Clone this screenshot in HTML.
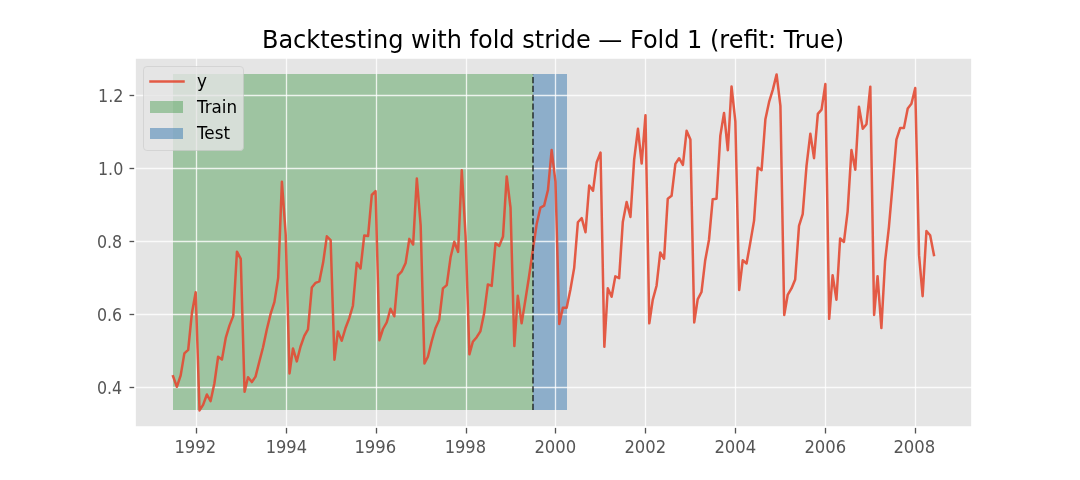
<!DOCTYPE html>
<html lang="en"><head><meta charset="utf-8"><title>Backtesting with fold stride — Fold 1 (refit: True)</title>
<style>html,body{margin:0;padding:0;background:#ffffff;width:1080px;height:480px;overflow:hidden}svg text{white-space:pre}</style>
</head><body>
<svg width="1080" height="480" viewBox="0 0 1080 480" style="display:block;position:absolute;left:0;top:0" font-family='"DejaVu Sans", "Liberation Sans", sans-serif'>
<rect x="0" y="0" width="1080" height="480" fill="#ffffff"/>
<rect x="135" y="58" width="837" height="369" fill="#e5e5e5"/>
<rect x="173" y="74" width="360" height="336" fill="#017c0b" fill-opacity="0.31"/>
<rect x="533" y="74" width="34" height="336" fill="#4682b4" fill-opacity="0.55"/>
<g stroke="#ffffff" stroke-opacity="0.8" stroke-width="1.3333" fill="none">
<line x1="196.5" y1="58" x2="196.5" y2="427"/>
<line x1="286.5" y1="58" x2="286.5" y2="427"/>
<line x1="376.5" y1="58" x2="376.5" y2="427"/>
<line x1="466.5" y1="58" x2="466.5" y2="427"/>
<line x1="555.5" y1="58" x2="555.5" y2="427"/>
<line x1="645.5" y1="58" x2="645.5" y2="427"/>
<line x1="735.5" y1="58" x2="735.5" y2="427"/>
<line x1="825.5" y1="58" x2="825.5" y2="427"/>
<line x1="915.5" y1="58" x2="915.5" y2="427"/>
<line x1="135" y1="95.5" x2="972" y2="95.5"/>
<line x1="135" y1="168.5" x2="972" y2="168.5"/>
<line x1="135" y1="241.5" x2="972" y2="241.5"/>
<line x1="135" y1="314.5" x2="972" y2="314.5"/>
<line x1="135" y1="387.5" x2="972" y2="387.5"/>
</g>
<g stroke="#555555" stroke-width="1.3333" fill="none">
<line x1="196.5" y1="427.6" x2="196.5" y2="433.5"/>
<line x1="286.5" y1="427.6" x2="286.5" y2="433.5"/>
<line x1="376.5" y1="427.6" x2="376.5" y2="433.5"/>
<line x1="466.5" y1="427.6" x2="466.5" y2="433.5"/>
<line x1="555.5" y1="427.6" x2="555.5" y2="433.5"/>
<line x1="645.5" y1="427.6" x2="645.5" y2="433.5"/>
<line x1="735.5" y1="427.6" x2="735.5" y2="433.5"/>
<line x1="825.5" y1="427.6" x2="825.5" y2="433.5"/>
<line x1="915.5" y1="427.6" x2="915.5" y2="433.5"/>
<line x1="129.5" y1="95.5" x2="135" y2="95.5"/>
<line x1="129.5" y1="168.5" x2="135" y2="168.5"/>
<line x1="129.5" y1="241.5" x2="135" y2="241.5"/>
<line x1="129.5" y1="314.5" x2="135" y2="314.5"/>
<line x1="129.5" y1="387.5" x2="135" y2="387.5"/>
</g>
<polyline points="173.05,376.26 176.86,386.80 180.68,375.40 184.37,353.37 188.19,349.79 191.88,313.20 195.70,292.24 199.52,410.40 203.09,404.88 206.90,394.50 210.60,401.07 214.42,383.29 218.11,356.71 221.93,359.60 225.74,337.97 229.44,325.62 233.25,315.91 236.95,251.69 240.76,258.90 244.58,391.67 248.03,377.18 251.85,382.06 255.54,376.60 259.36,361.55 263.05,347.29 266.87,329.33 270.68,313.62 274.38,302.15 278.19,277.83 281.89,181.71 285.70,234.16 289.52,373.39 292.97,348.42 296.79,361.42 300.48,346.75 304.30,335.87 307.99,329.45 311.81,287.59 315.62,282.83 319.32,281.45 323.13,262.62 326.83,236.35 330.64,240.07 334.46,359.68 337.91,331.47 341.73,340.76 345.42,328.31 349.24,318.19 352.93,305.73 356.75,262.79 360.56,268.43 364.26,235.44 368.07,236.10 371.77,195.00 375.59,191.13 379.40,340.16 382.97,329.00 386.79,322.24 390.48,308.72 394.30,316.29 397.99,275.42 401.81,271.33 405.63,263.06 409.32,238.87 413.14,244.45 416.83,178.55 420.65,225.31 424.47,363.56 427.91,356.69 431.73,341.13 435.42,328.24 439.24,319.66 442.93,288.36 446.75,285.15 450.57,257.32 454.26,241.80 458.08,251.92 461.77,170.34 465.59,235.87 469.41,354.31 472.85,341.73 476.67,337.18 480.36,331.41 484.18,313.05 487.87,284.41 491.69,285.95 495.51,243.32 499.20,245.92 503.02,236.45 506.71,176.39 510.53,207.74 514.35,346.06 517.79,295.84 521.61,323.33 525.30,300.52 529.12,275.95 532.82,250.18 536.63,224.31 540.45,207.59 544.14,205.65 547.96,190.07 551.65,150.06 555.47,181.69 559.29,323.88 562.86,307.72 566.67,307.64 570.37,289.73 574.18,267.86 577.88,222.23 581.70,218.07 585.51,232.20 589.21,185.60 593.02,190.80 596.72,162.17 600.53,152.58 604.35,346.82 607.80,288.30 611.61,296.82 615.31,276.36 619.13,278.15 622.82,221.94 626.64,202.00 630.45,216.99 634.15,159.61 637.96,128.83 641.66,163.56 645.47,115.25 649.29,323.36 652.74,299.82 656.56,285.73 660.25,252.44 664.07,258.76 667.76,198.68 671.58,195.85 675.39,163.89 679.09,158.20 682.90,164.99 686.60,130.83 690.41,139.42 694.23,322.39 697.68,299.36 701.50,292.00 705.19,260.41 709.01,239.73 712.70,199.21 716.52,198.78 720.33,135.60 724.03,112.90 727.84,150.25 731.54,86.44 735.35,121.34 739.17,290.05 742.74,260.26 746.56,263.44 750.25,242.88 754.07,220.61 757.76,167.64 761.58,170.11 765.40,119.18 769.09,101.97 772.91,89.37 776.60,74.40 780.42,105.97 784.24,315.03 787.68,294.98 791.50,288.45 795.19,279.42 799.01,225.79 802.70,214.09 806.52,165.82 810.34,133.66 814.03,158.16 817.85,113.83 821.54,109.60 825.36,84.08 829.18,318.86 832.62,275.15 836.44,299.71 840.13,238.51 843.95,241.95 847.64,211.29 851.46,150.11 855.28,169.77 858.97,106.63 862.79,128.81 866.48,124.16 870.30,86.64 874.12,314.99 877.56,276.14 881.38,328.10 885.07,261.25 888.89,227.40 892.58,184.98 896.40,139.71 900.22,127.94 903.91,128.12 907.73,108.48 911.42,103.82 915.24,88.01 919.06,255.13 922.63,296.13 926.44,231.03 930.14,235.28 933.95,255.02" fill="none" stroke="#e24a33" stroke-opacity="0.9" stroke-width="2.5" stroke-linejoin="round" stroke-linecap="square"/>
<line x1="533" y1="410" x2="533" y2="74" stroke="#000000" stroke-opacity="0.68" stroke-width="1.6667" stroke-dasharray="6.1667 2.6667" fill="none"/>
<g stroke="#ffffff" stroke-width="1.6667" fill="none" stroke-linecap="square">
<line x1="135" y1="58" x2="135" y2="427"/>
<line x1="972" y1="58" x2="972" y2="427"/>
<line x1="135" y1="427" x2="972" y2="427"/>
<line x1="135" y1="58" x2="972" y2="58"/>
</g>
<g fill="#555555" font-size="16.8px">
<text x="195.325" y="453.0" text-anchor="middle" textLength="41.75" lengthAdjust="spacingAndGlyphs">1992</text>
<text x="286.325" y="453.0" text-anchor="middle" textLength="41.375" lengthAdjust="spacingAndGlyphs">1994</text>
<text x="375.325" y="453.0" text-anchor="middle" textLength="41.875" lengthAdjust="spacingAndGlyphs">1996</text>
<text x="465.325" y="453.0" text-anchor="middle" textLength="41.375" lengthAdjust="spacingAndGlyphs">1998</text>
<text x="555.325" y="453.0" text-anchor="middle" textLength="41.875" lengthAdjust="spacingAndGlyphs">2000</text>
<text x="645.325" y="453.0" text-anchor="middle" textLength="41.75" lengthAdjust="spacingAndGlyphs">2002</text>
<text x="735.325" y="453.0" text-anchor="middle" textLength="41.875" lengthAdjust="spacingAndGlyphs">2004</text>
<text x="825.325" y="453.0" text-anchor="middle" textLength="41.875" lengthAdjust="spacingAndGlyphs">2006</text>
<text x="914.325" y="453.0" text-anchor="middle" textLength="41.875" lengthAdjust="spacingAndGlyphs">2008</text>
<text x="123.455" y="102.0" text-anchor="end" textLength="25.5" lengthAdjust="spacingAndGlyphs">1.2</text>
<text x="123.33" y="175.0" text-anchor="end" textLength="25.375" lengthAdjust="spacingAndGlyphs">1.0</text>
<text x="122.205" y="248.0" text-anchor="end" textLength="25.25" lengthAdjust="spacingAndGlyphs">0.8</text>
<text x="122.205" y="321.0" text-anchor="end" textLength="25.25" lengthAdjust="spacingAndGlyphs">0.6</text>
<text x="122.205" y="394.0" text-anchor="end" textLength="25.25" lengthAdjust="spacingAndGlyphs">0.4</text>
</g>
<text x="553" y="48" text-anchor="middle" font-size="24px" fill="#000000">Backtesting with fold stride — Fold 1 (refit: True)</text>
<path d="M 146.8333 150.5 L 240.1667 150.5 Q 243.5 150.5 243.5 147.1667 L 243.5 69.8333 Q 243.5 66.5 240.1667 66.5 L 146.8333 66.5 Q 143.5 66.5 143.5 69.8333 L 143.5 147.1667 Q 143.5 150.5 146.8333 150.5 Z" fill="#e5e5e5" stroke="#cccccc" stroke-width="0.8333" opacity="0.8"/>
<line x1="150.5" y1="81.5" x2="183.5" y2="81.5" stroke="#e24a33" stroke-opacity="0.9" stroke-width="2.5" stroke-linecap="square"/>
<rect x="150" y="101" width="33" height="12" fill="#017c0b" fill-opacity="0.31"/>
<rect x="150" y="128" width="33" height="11" fill="#4682b4" fill-opacity="0.55"/>
<g fill="#000000" font-size="16.8px">
<text x="196.92" y="87.0" text-anchor="start">y</text>
<text x="196.92" y="113.0" text-anchor="start">Train</text>
<text x="196.92" y="139.0" text-anchor="start" textLength="33.125" lengthAdjust="spacingAndGlyphs">Test</text>
</g>
</svg>
</body></html>
